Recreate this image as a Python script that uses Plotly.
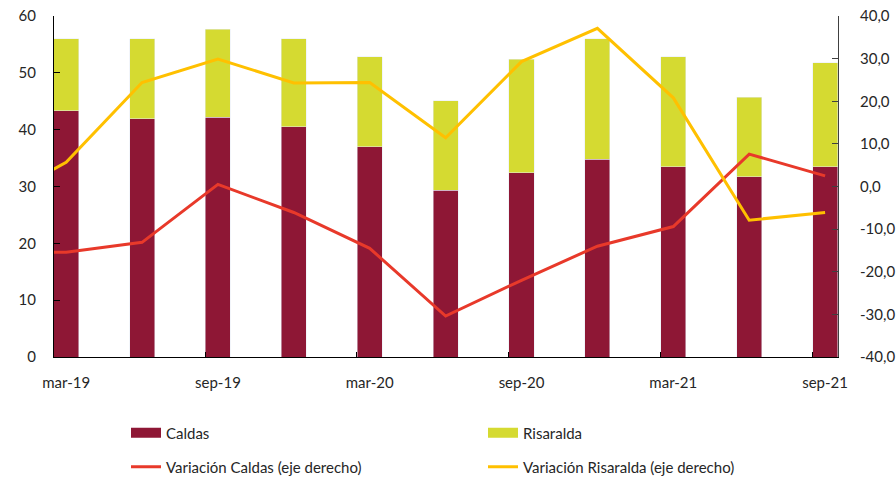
import plotly.graph_objects as go

# ---- data ----
categories = ["mar-19", "jun-19", "sep-19", "dic-19", "mar-20", "jun-20",
              "sep-20", "dic-20", "mar-21", "jun-21", "sep-21"]
caldas = [43.3, 41.9, 42.2, 40.5, 37.0, 29.3, 32.4, 34.8, 33.5, 31.7, 33.5]
risaralda = [12.7, 14.1, 15.5, 15.5, 15.8, 15.8, 20.0, 21.2, 19.3, 14.0, 18.3]

# variation series include the previous quarter (dic-18), which falls just
# outside the visible range and is clipped at the axis
var_periods = ["dic-18"] + categories
var_caldas = [-15.4, -15.4, -13.1, 0.5, -6.1, -14.5, -30.4, -22.0, -14.0, -9.4, 7.6, 2.5]
var_risaralda = [-4.3, 5.7, 24.4, 29.9, 24.3, 24.4, 11.45, 29.3, 37.1, 20.8, -7.9, -6.1]

tick_labels = ["mar-19", "sep-19", "mar-20", "sep-20", "mar-21", "sep-21"]
left_ticks = [0, 10, 20, 30, 40, 50, 60]
right_ticks = [-40, -30, -20, -10, 0, 10, 20, 30, 40]
right_tick_text = ["-40,0", "-30,0", "-20,0", "-10,0", "0,0", "10,0", "20,0", "30,0", "40,0"]

# ---- styling ----
C_CALDAS = "#8E1735"
C_RIS = "#D5DA31"
C_VCAL = "#E8392A"
C_VRIS = "#FFC000"
FONT = "Lato"
TXT = "#262626"

x_bar = list(range(len(categories)))
x_var = [-1] + x_bar
tick_pos = [categories.index(t) for t in tick_labels]
minor_tick_pos = [p - 0.17 for p in tick_pos[1:]]

fig = go.Figure()
fig.add_bar(x=x_bar, y=caldas, name="Caldas", marker_color=C_CALDAS,
            width=0.33, showlegend=False, yaxis="y")
fig.add_bar(x=x_bar, y=risaralda, name="Risaralda", marker_color=C_RIS,
            width=0.33, showlegend=False, yaxis="y")
fig.add_scatter(x=x_var, y=var_caldas, mode="lines", name="Variación Caldas (eje derecho)",
                line=dict(color=C_VCAL, width=3), yaxis="y2", legend="legend2")
fig.add_scatter(x=x_var, y=var_risaralda, mode="lines", name="Variación Risaralda (eje derecho)",
                line=dict(color=C_VRIS, width=3), yaxis="y2", legend="legend2")
# legend swatches for the bar series
fig.add_scatter(x=[None], y=[None], mode="lines", name="Caldas",
                line=dict(color=C_CALDAS, width=10), legend="legend")
fig.add_scatter(x=[None], y=[None], mode="lines", name="Risaralda",
                line=dict(color=C_RIS, width=10), legend="legend")
# tick marks (no labels) overlay axis
fig.add_scatter(x=minor_tick_pos, y=[None] * len(minor_tick_pos), xaxis="x2",
                showlegend=False, hoverinfo="skip")

xr = [-0.16, 10.17]
leg_common = dict(orientation="h", xref="container", yref="container",
                  xanchor="left", yanchor="middle", traceorder="normal",
                  entrywidth=312, font=dict(size=15), bgcolor="rgba(0,0,0,0)")
fig.update_layout(
    width=896, height=478,
    margin=dict(l=54, r=58, t=16, b=121, autoexpand=False),
    barmode="stack",
    plot_bgcolor="white", paper_bgcolor="white",
    font=dict(family=FONT, size=15, color=TXT),
    xaxis=dict(range=xr, tickvals=tick_pos, ticktext=tick_labels, ticks="",
               showline=True, linecolor="black", linewidth=1, showgrid=False,
               zeroline=False, ticklabelstandoff=12, automargin=False),
    xaxis2=dict(range=xr, overlaying="x", tickvals=minor_tick_pos, ticks="inside",
                ticklen=5, tickcolor="black", showticklabels=False,
                showgrid=False, zeroline=False, showline=False, side="bottom",
                automargin=False),
    yaxis=dict(range=[0, 60], tickvals=left_ticks, ticks="inside", ticklen=6,
               tickcolor="black", showline=True, linecolor="black", linewidth=1,
               showgrid=False, zeroline=False, ticklabelstandoff=14, automargin=False),
    yaxis2=dict(range=[-40, 40], tickvals=right_ticks, ticktext=right_tick_text,
                overlaying="y", side="right", ticks="inside", ticklen=6,
                tickcolor="#404040", showline=True, linecolor="#404040", linewidth=1,
                showgrid=False, zeroline=False, ticklabelstandoff=18, automargin=False),
    legend=dict(leg_common, x=126 / 896, y=(478 - 433) / 478),
    legend2=dict(leg_common, x=126 / 896, y=(478 - 467) / 478),
)

fig.write_html("out.html", config={"displayModeBar": False},
               post_script="document.body.style.margin='0px';")
